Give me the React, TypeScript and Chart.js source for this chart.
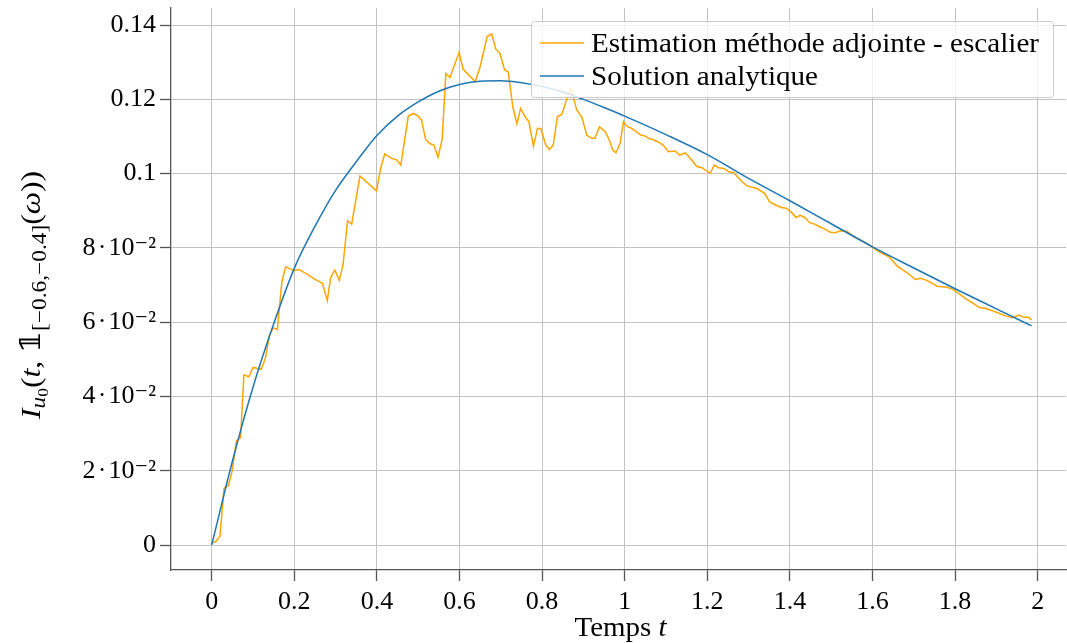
import { useEffect, useRef } from "react";
import { Chart, registerables } from "chart.js";

Chart.register(...registerables);

// ---------- data ----------
const estLabel = "Estimation méthode adjointe - escalier";
const anaLabel = "Solution analytique";

const estT = [
  0, 0.009, 0.02, 0.03, 0.04, 0.049, 0.06, 0.07, 0.078, 0.09, 0.1, 0.12, 0.13, 0.14, 0.149, 0.159,
  0.17, 0.179, 0.199, 0.211, 0.23, 0.25, 0.268, 0.28, 0.288, 0.298, 0.309, 0.318, 0.329, 0.339,
  0.359, 0.399, 0.409, 0.419, 0.436, 0.448, 0.458, 0.476, 0.488, 0.5, 0.508, 0.518, 0.528, 0.538,
  0.548, 0.558, 0.567, 0.577, 0.599, 0.609, 0.638, 0.65, 0.667, 0.678, 0.688, 0.698, 0.709, 0.718,
  0.729, 0.739, 0.748, 0.759, 0.768, 0.779, 0.789, 0.797, 0.809, 0.818, 0.827, 0.837, 0.848, 0.86,
  0.87, 0.884, 0.896, 0.908, 0.92, 0.928, 0.939, 0.953, 0.963, 0.971, 0.979, 0.989, 0.997, 1.005,
  1.017, 1.028, 1.039, 1.05, 1.058, 1.068, 1.08, 1.093, 1.106, 1.122, 1.133, 1.147, 1.159, 1.175,
  1.187, 1.207, 1.217, 1.227, 1.24, 1.252, 1.264, 1.28, 1.296, 1.32, 1.339, 1.351, 1.367, 1.379,
  1.391, 1.403, 1.415, 1.425, 1.436, 1.448, 1.46, 1.472, 1.486, 1.498, 1.51, 1.522, 1.539, 1.555,
  1.579, 1.599, 1.615, 1.64, 1.66, 1.684, 1.704, 1.716, 1.733, 1.757, 1.781, 1.797, 1.81, 1.825,
  1.842, 1.858, 1.874, 1.89, 1.906, 1.922, 1.939, 1.955, 1.967, 1.977, 1.985,
];
const estI = [
  0.0006, 0.0008, 0.0024, 0.0153, 0.0159, 0.0197, 0.028, 0.0289, 0.0458, 0.0453, 0.0478, 0.0473,
  0.0503, 0.0565, 0.0585, 0.058, 0.0709, 0.0749, 0.0739, 0.0742, 0.073, 0.0715, 0.0705, 0.0658,
  0.072, 0.074, 0.0713, 0.0754, 0.0873, 0.0864, 0.0994, 0.0954, 0.1014, 0.1053, 0.1041, 0.1037,
  0.1023, 0.1155, 0.1162, 0.1155, 0.1144, 0.1092, 0.1081, 0.1077, 0.1044, 0.1092, 0.127, 0.1259,
  0.1326, 0.1281, 0.1248, 0.1288, 0.1369, 0.1376, 0.1335, 0.1324, 0.128, 0.1274, 0.118, 0.1134,
  0.1176, 0.1153, 0.114, 0.1074, 0.1122, 0.1121, 0.1077, 0.1065, 0.1077, 0.1153, 0.116, 0.1202,
  0.1229, 0.1171, 0.1153, 0.1104, 0.1095, 0.1095, 0.1126, 0.1113, 0.109, 0.1064, 0.1056, 0.1082,
  0.114, 0.1128, 0.1122, 0.1113, 0.1104, 0.1101, 0.1095, 0.1092, 0.1086, 0.1077, 0.1059, 0.1061,
  0.105, 0.1056, 0.1041, 0.1019, 0.1016, 0.1001, 0.1023, 0.1016, 0.1014, 0.1005, 0.1003, 0.0983,
  0.0967, 0.096, 0.0947, 0.0924, 0.0915, 0.0909, 0.0907, 0.0897, 0.0882, 0.0888, 0.0882, 0.0868,
  0.0864, 0.0857, 0.085, 0.0842, 0.0841, 0.0846, 0.0844, 0.083, 0.0817, 0.0803, 0.079, 0.0776,
  0.0751, 0.0733, 0.0715, 0.0718, 0.0712, 0.0697, 0.0694, 0.0687, 0.0676, 0.0664, 0.0652, 0.064,
  0.0637, 0.0631, 0.0624, 0.0617, 0.0612, 0.0619, 0.0613, 0.0613, 0.0606,
];

const anaT = [
  0, 0.05, 0.1, 0.15, 0.2, 0.25, 0.3, 0.35, 0.4, 0.45, 0.5, 0.55, 0.6, 0.65, 0.7, 0.75, 0.8, 0.85,
  0.9, 0.95, 1.0, 1.1, 1.2, 1.3, 1.4, 1.5, 1.6, 1.7, 1.8, 1.9, 1.985,
];
const anaI = [
  0, 0.0225, 0.0425, 0.0595, 0.0745, 0.0858, 0.0955, 0.1032, 0.1103, 0.1155, 0.1193, 0.1222,
  0.124, 0.1249, 0.125, 0.1245, 0.1235, 0.122, 0.12, 0.1178, 0.1155, 0.1105, 0.1051, 0.0987,
  0.0927, 0.0865, 0.0803, 0.0746, 0.069, 0.0636, 0.059,
];

const xTickValues = [0, 0.2, 0.4, 0.6, 0.8, 1, 1.2, 1.4, 1.6, 1.8, 2];
const xTickLabels = ["0", "0.2", "0.4", "0.6", "0.8", "1", "1.2", "1.4", "1.6", "1.8", "2"];
const yTickValues = [0, 0.02, 0.04, 0.06, 0.08, 0.1, 0.12, 0.14];
const yTickLabels = [
  "0",
  "2\u200a·\u200a10⁻²",
  "4\u200a·\u200a10⁻²",
  "6\u200a·\u200a10⁻²",
  "8\u200a·\u200a10⁻²",
  "0.1",
  "0.12",
  "0.14",
];

const xTitle = ["Temps ", "t"];

// ---------- styling ----------
const FAMILY = "'Liberation Serif', 'DejaVu Serif', serif";
const ORANGE = "#FFA500";
const BLUE = "#1f77b4";

function font(size: number, italic = false) {
  return `${italic ? "italic " : ""}${size}px ${FAMILY}`;
}

type Seg = { t: string; size: number; italic?: boolean; dy?: number };

// draws text segments with baseline at baseY; either centred at cx, or starting at cx (align "left").
// If targetWidth is given the run is stretched horizontally to that width (Computer Modern is wider than Times).
function drawSegs(
  ctx: CanvasRenderingContext2D,
  segs: Seg[],
  cx: number,
  baseY: number,
  targetWidth?: number,
  align: "center" | "left" = "center"
) {
  let total = 0;
  const widths = segs.map((s) => {
    ctx.font = font(s.size, s.italic);
    const w = ctx.measureText(s.t).width;
    total += w;
    return w;
  });
  const k = targetWidth ? targetWidth / total : 1;
  const start = align === "center" ? cx - (total * k) / 2 : cx;
  ctx.save();
  ctx.translate(start, baseY);
  ctx.scale(k, 1);
  ctx.textAlign = "left";
  ctx.textBaseline = "alphabetic";
  let x = 0;
  segs.forEach((s, i) => {
    ctx.font = font(s.size, s.italic);
    ctx.fillText(s.t, x, s.dy || 0);
    x += widths[i];
  });
  ctx.restore();
}

const decorPlugin = {
  id: "decor",
  afterDraw(chart: any) {
    const ctx: CanvasRenderingContext2D = chart.ctx;
    const area = chart.chartArea;
    ctx.save();
    ctx.fillStyle = "#000";

    // x title
    drawSegs(
      ctx,
      [
        { t: xTitle[0], size: 27 },
        { t: xTitle[1], size: 27, italic: true },
      ],
      (area.left + area.right) / 2 + 2,
      636,
      92
    );

    // y title (rotated)
    ctx.save();
    ctx.translate(40, (area.top + area.bottom) / 2 + 6);
    ctx.rotate(-Math.PI / 2);
    drawSegs(
      ctx,
      [
        { t: "I", size: 27, italic: true },
        { t: "u", size: 20, italic: true, dy: 5 },
        { t: "0", size: 15, dy: 8 },
        { t: "(", size: 27 },
        { t: "t", size: 27, italic: true },
        { t: ", ", size: 27 },
        { t: "𝟙", size: 27 },
        { t: "[−0.6,−0.4]", size: 20, dy: 6 },
        { t: "(", size: 27 },
        { t: "ω", size: 27, italic: true },
        { t: "))", size: 27 },
      ],
      0,
      0,
      248
    );
    ctx.restore();

    // legend box
    const bx = 531.5,
      by = 21.5,
      bw = 522,
      bh = 76,
      r = 3;
    ctx.beginPath();
    ctx.moveTo(bx + r, by);
    ctx.lineTo(bx + bw - r, by);
    ctx.quadraticCurveTo(bx + bw, by, bx + bw, by + r);
    ctx.lineTo(bx + bw, by + bh - r);
    ctx.quadraticCurveTo(bx + bw, by + bh, bx + bw - r, by + bh);
    ctx.lineTo(bx + r, by + bh);
    ctx.quadraticCurveTo(bx, by + bh, bx, by + bh - r);
    ctx.lineTo(bx, by + r);
    ctx.quadraticCurveTo(bx, by, bx + r, by);
    ctx.closePath();
    ctx.fillStyle = "rgba(255,255,255,0.8)";
    ctx.fill();
    ctx.strokeStyle = "#cccccc";
    ctx.lineWidth = 1;
    ctx.stroke();

    const order = [0, 1];
    const legendWidths = [448, 227];
    order.forEach((di, row) => {
      const ds = chart.data.datasets[di];
      const ly = 43 + row * 33;
      ctx.strokeStyle = ds.borderColor;
      ctx.lineWidth = 1.5;
      ctx.beginPath();
      ctx.moveTo(540, ly);
      ctx.lineTo(584, ly);
      ctx.stroke();
      ctx.fillStyle = "#000";
      drawSegs(ctx, [{ t: ds.label, size: 27 }], 591, ly + 8.5, legendWidths[row], "left");
    });

    ctx.restore();
  },
};

export default function App() {
  const ref = useRef<HTMLCanvasElement>(null);

  useEffect(() => {
    if (!ref.current) return;
    const chart = new Chart(ref.current, {
      type: "line",
      data: {
        datasets: [
          {
            label: estLabel,
            data: estT.map((t, i) => ({ x: t, y: estI[i] })),
            borderColor: ORANGE,
            backgroundColor: ORANGE,
            borderWidth: 1.5,
            pointRadius: 0,
            tension: 0,
            order: 1,
          },
          {
            label: anaLabel,
            data: anaT.map((t, i) => ({ x: t, y: anaI[i] })),
            borderColor: BLUE,
            backgroundColor: BLUE,
            borderWidth: 1.5,
            pointRadius: 0,
            cubicInterpolationMode: "monotone",
            order: 0,
          },
        ],
      },
      options: {
        animation: false,
        responsive: false,
        layout: { padding: { left: 0, top: 8, right: 1, bottom: 0 } },
        plugins: {
          legend: { display: false },
          title: { display: false },
          tooltip: { enabled: false },
        },
        scales: {
          x: {
            type: "linear",
            min: -0.0985,
            max: 2.0685,
            afterBuildTicks: (s: any) => {
              s.ticks = xTickValues.map((v) => ({ value: v }));
            },
            afterFit: (s: any) => {
              s.height = 73;
              s.paddingLeft = 0;
              s.paddingRight = 0;
            },
            ticks: {
              autoSkip: false,
              maxRotation: 0,
              color: "#000",
              padding: 6,
              font: { family: FAMILY, size: 26 },
              callback: (v: any) => {
                const i = xTickValues.findIndex((x) => Math.abs(x - Number(v)) < 1e-6);
                return i >= 0 ? xTickLabels[i] : "";
              },
            },
            grid: {
              color: "#c2c2c2",
              lineWidth: 1,
              tickLength: 11,
              tickColor: "#555",
              tickWidth: 1.3,
            },
            border: { display: true, color: "#555", width: 1.3 },
          },
          y: {
            type: "linear",
            min: -0.00673,
            max: 0.1446,
            afterBuildTicks: (s: any) => {
              s.ticks = yTickValues.map((v) => ({ value: v }));
            },
            afterFit: (s: any) => {
              s.width = 171;
              s.paddingTop = 0;
              s.paddingBottom = 0;
            },
            ticks: {
              autoSkip: false,
              color: "#000",
              padding: 4,
              font: { family: FAMILY, size: 26 },
              callback: (v: any) => {
                const i = yTickValues.findIndex((y) => Math.abs(y - Number(v)) < 1e-9);
                return i >= 0 ? yTickLabels[i] : "";
              },
            },
            grid: {
              color: "#c2c2c2",
              lineWidth: 1,
              tickLength: 11,
              tickColor: "#555",
              tickWidth: 1.3,
            },
            border: { display: true, color: "#555", width: 1.3 },
          },
        },
      },
      plugins: [decorPlugin],
    } as any);
    return () => chart.destroy();
  }, []);

  return (
    <div style={{ position: "absolute", left: 0, top: 0, width: 1067, height: 643, background: "#fff" }}>
      <canvas ref={ref} width={1067} height={643} style={{ display: "block" }} />
    </div>
  );
}
